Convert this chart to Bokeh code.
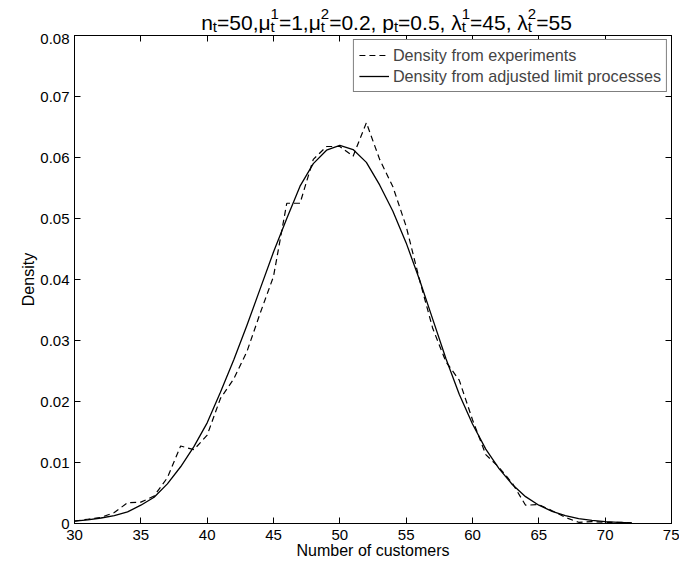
from bokeh.plotting import figure
from bokeh.layouts import column
from bokeh.models import Range1d, FixedTicker, LinearAxis, Legend, LegendItem
from bokeh.core.properties import value
from bokeh.embed import file_html
from bokeh.resources import INLINE

# ---- data ----
customers = [30, 31, 32, 33, 34, 35, 36, 37, 38, 39, 40, 41, 42, 43, 44, 45, 46, 47, 48, 49, 50,
             51, 52, 53, 54, 55, 56, 57, 58, 59, 60, 61, 62, 63, 64, 65, 66, 67, 68, 69, 70, 71, 72]
density_experiments = [0.0004, 0.0007, 0.0010, 0.0018, 0.0034, 0.0035, 0.0045, 0.0075, 0.0127, 0.0121,
                       0.0145, 0.0205, 0.0237, 0.0282, 0.0345, 0.0405, 0.0525, 0.0525, 0.0597, 0.0618,
                       0.0618, 0.0602, 0.0657, 0.0597, 0.0552, 0.0487, 0.0400, 0.0320, 0.0265, 0.0235,
                       0.0170, 0.0113, 0.0092, 0.0066, 0.0030, 0.0031, 0.0021, 0.0010, 0.0002, 0.0003,
                       0.0002, 0.0002, 0.0001]
density_limit = [0.0004, 0.0006, 0.0009, 0.0013, 0.0019, 0.0030, 0.0043, 0.0065, 0.0093, 0.0126,
                 0.0165, 0.0215, 0.0268, 0.0325, 0.0385, 0.0445, 0.0500, 0.0553, 0.0590, 0.0612,
                 0.0620, 0.0613, 0.0592, 0.0555, 0.0512, 0.0460, 0.0400, 0.0335, 0.0270, 0.0212,
                 0.0163, 0.0122, 0.0090, 0.0064, 0.0044, 0.0030, 0.0020, 0.0013, 0.0008, 0.0005,
                 0.0003, 0.0002, 0.0001]
x_ticks = [30, 35, 40, 45, 50, 55, 60, 65, 70, 75]
y_ticks = [0, 0.01, 0.02, 0.03, 0.04, 0.05, 0.06, 0.07, 0.08]
y_tick_labels = ["0", "0.01", "0.02", "0.03", "0.04", "0.05", "0.06", "0.07", "0.08"]
series_labels = ["Density from experiments", "Density from adjusted limit processes"]
# title segments: (main text, superscript, subscript)
title_segments = [("n", None, "t"), ("=50,\u03bc", "1", "t"), ("=1,\u03bc", "2", "t"),
                  ("=0.2, p", None, "t"), ("=0.5, \u03bb", "1", "t"), ("=45, \u03bb", "2", "t"),
                  ("=55", None, None)]

FONT = "Liberation Sans"
LEFT, FRAME_W, RIGHT = 74, 597, 8
TITLE_H = 33

# ---------------- title strip (x data == page pixels) ----------------
tf = figure(title=None, frame_width=FRAME_W, frame_height=TITLE_H,
            x_range=Range1d(LEFT, LEFT + FRAME_W), y_range=Range1d(0, TITLE_H),
            min_border_left=LEFT, min_border_right=RIGHT, min_border_top=0, min_border_bottom=0,
            toolbar_location=None, output_backend="svg",
            x_axis_type=None, y_axis_type=None)
tf.grid.visible = False
tf.outline_line_color = None
tf.background_fill_color = "white"
tf.border_fill_color = "white"

MAIN, SCRIPT = 21, 15
W = {'n': 556, '=': 584, '0': 556, '1': 556, '2': 556, '4': 556, '5': 556, ',': 278, '.': 278,
     ' ': 278, 'p': 556, 't': 278, '\u03bc': 576, '\u03bb': 500}

def tw(s, size):
    return sum(W.get(c, 556) for c in s) * size / 1000.0

total = 0.0
for m, sup, sub in title_segments:
    total += tw(m, MAIN) + max(tw(sup or "", SCRIPT), tw(sub or "", SCRIPT))

center_x = 386
base_y = 11.5
mx, mt, sx, sy, st = [], [], [], [], []
cx = center_x - total / 2.0
for m, sup, sub in title_segments:
    mx.append(cx); mt.append(m)
    cx += tw(m, MAIN)
    if sup:
        sx.append(cx); sy.append(base_y + 8); st.append(sup)
    if sub:
        sx.append(cx); sy.append(base_y - 4); st.append(sub)
    cx += max(tw(sup or "", SCRIPT), tw(sub or "", SCRIPT))
tf.text(x=mx, y=[base_y] * len(mx), text=mt, text_font=value(FONT), text_font_size=f"{MAIN}px",
        text_baseline="alphabetic", text_align="left", text_color="black")
tf.text(x=sx, y=sy, text=st, text_font=value(FONT), text_font_size=f"{SCRIPT}px",
        text_baseline="alphabetic", text_align="left", text_color="black")

# ---------------- main plot ----------------
p = figure(title=None, frame_width=FRAME_W, frame_height=488,
           x_range=Range1d(30, 75), y_range=Range1d(0, 0.08),
           output_backend="svg", toolbar_location=None,
           min_border_left=LEFT, min_border_top=2, min_border_right=RIGHT, min_border_bottom=38)
p.grid.visible = False
p.outline_line_color = "black"
p.outline_line_width = 1
p.background_fill_color = "white"
p.border_fill_color = "white"

xa = p.below[0]
ya = p.left[0]
for ax, tk in ((xa, x_ticks), (ya, y_ticks)):
    ax.ticker = FixedTicker(ticks=tk)
    ax.major_tick_in = 6
    ax.major_tick_out = 0
    ax.minor_tick_line_color = None
    ax.axis_line_color = "black"
    ax.major_tick_line_color = "black"
    ax.major_label_text_font = FONT
    ax.major_label_text_font_size = "15px"
    ax.major_label_text_color = "black"
    ax.axis_label_text_font = FONT
    ax.axis_label_text_font_size = "16px"
    ax.axis_label_text_font_style = "normal"
    ax.axis_label_text_color = "black"
ya.major_label_overrides = {t: l for t, l in zip(y_ticks, y_tick_labels)}
xa.axis_label = "Number of customers"
ya.axis_label = "Density"
xa.major_label_standoff = 6
ya.major_label_standoff = 5
xa.axis_label_standoff = -1
ya.axis_label_standoff = 0

for loc, tk in (("above", x_ticks), ("right", y_ticks)):
    ax = LinearAxis(ticker=FixedTicker(ticks=tk), major_tick_in=6, major_tick_out=0,
                    minor_tick_line_color=None, major_label_text_font_size="1px",
                    major_label_text_color=None, major_label_standoff=0, axis_line_color="black")
    p.add_layout(ax, loc)

r_exp = p.line(customers, density_experiments, line_color="black", line_width=1.2, line_dash="6 4")
r_lim = p.line(customers, density_limit, line_color="black", line_width=1.3)

legend = Legend(items=[LegendItem(label=series_labels[0], renderers=[r_exp]),
                       LegendItem(label=series_labels[1], renderers=[r_lim])],
                location="top_right", margin=4, padding=5, spacing=1,
                glyph_width=30, glyph_height=20, label_height=20, label_standoff=4,
                label_text_font=FONT, label_text_font_size="16.2px",
                border_line_color="black", border_line_width=1, background_fill_alpha=1)
p.add_layout(legend)

layout = column(tf, p, spacing=0)
open("out.html", "w").write(file_html(layout, INLINE))
